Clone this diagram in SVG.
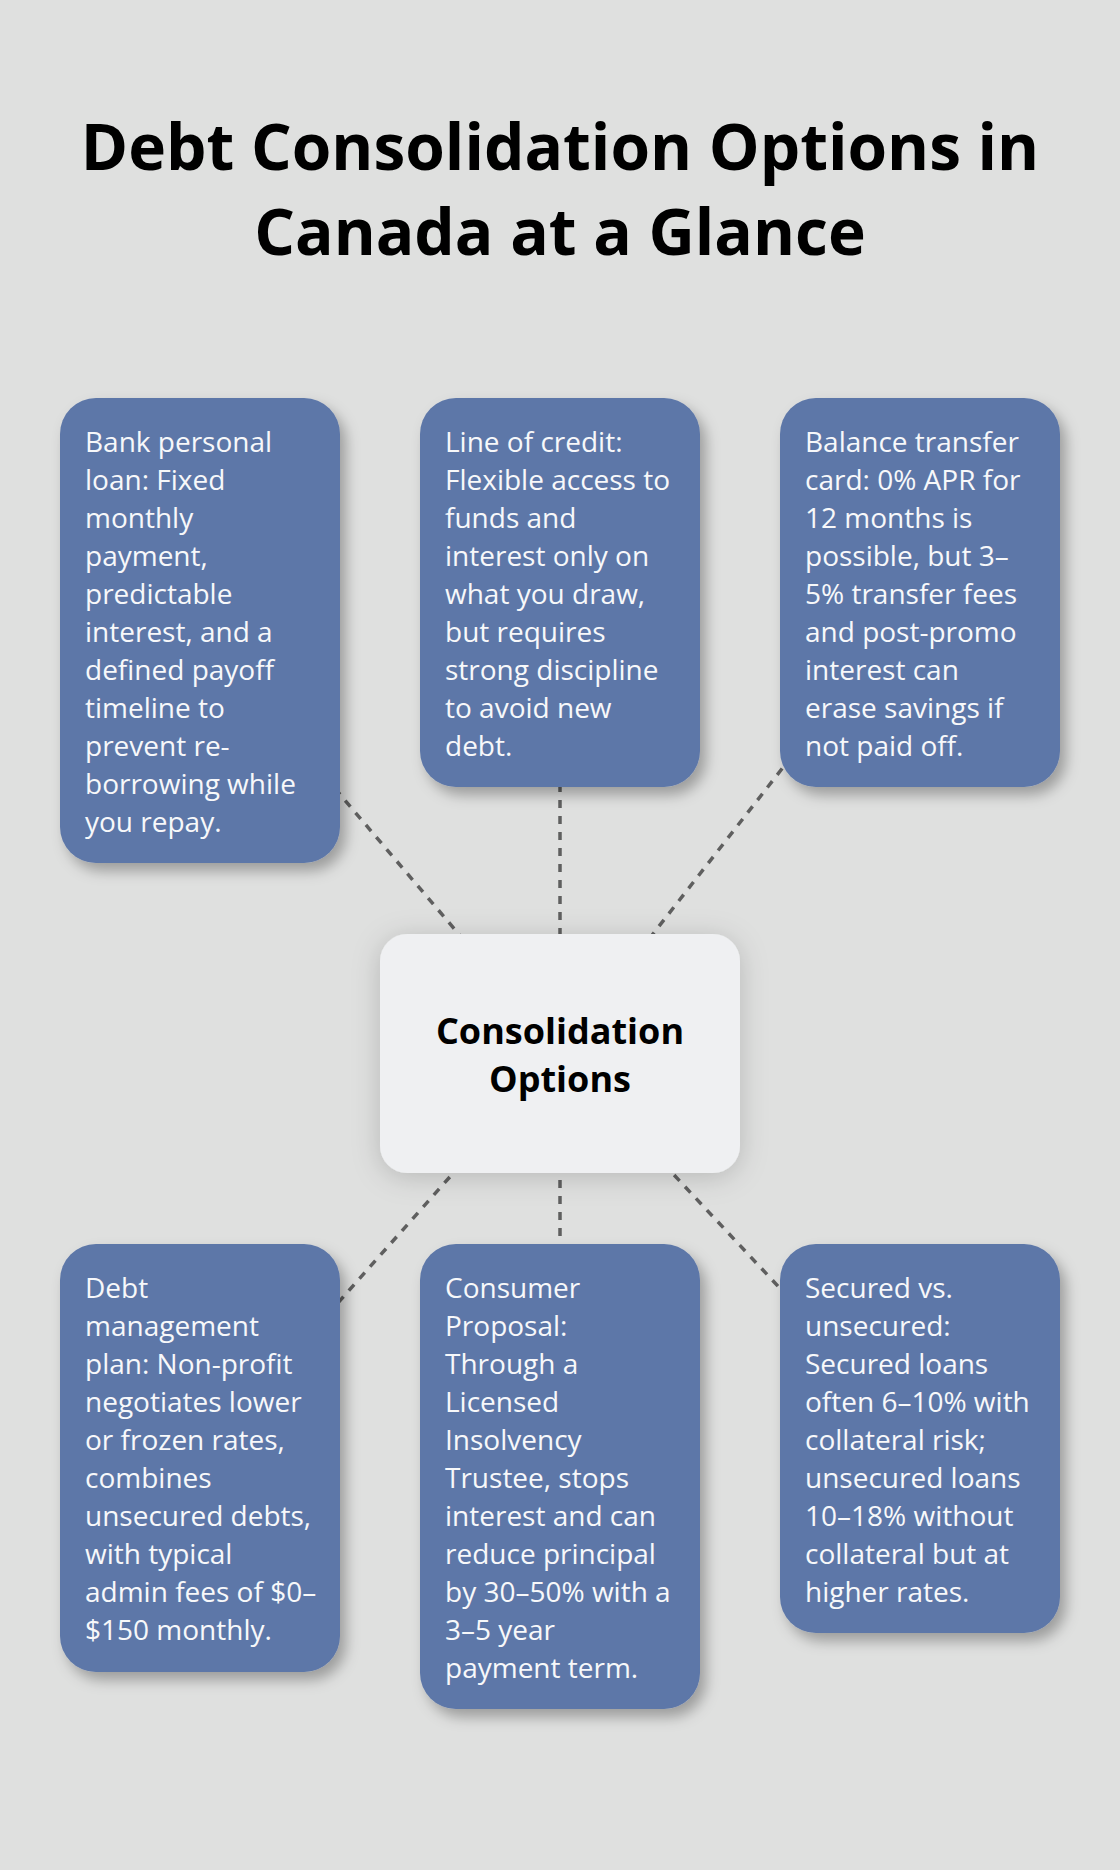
<svg xmlns="http://www.w3.org/2000/svg" width="1120" height="1870" viewBox="0 0 1120 1870">
<defs>
<filter id="sh" x="-20%" y="-20%" width="140%" height="140%">
<feDropShadow dx="6" dy="8" stdDeviation="7" flood-color="#000" flood-opacity="0.3"/>
</filter>
<filter id="shc" x="-20%" y="-20%" width="140%" height="140%">
<feDropShadow dx="0" dy="4" stdDeviation="14" flood-color="#000" flood-opacity="0.18"/>
</filter>
</defs>
<style>
.bg{fill:#dfe0df}
.title{font-family:"Open Sans","Liberation Sans",sans-serif;font-weight:700;font-size:64px;fill:#000;text-anchor:middle}
.box{fill:#5d77a8;filter:url(#sh)}
.t{font-family:"Open Sans","Liberation Sans",sans-serif;font-size:28px;fill:#f7f8fa}
.cbox{fill:#eff0f2;filter:url(#shc)}
.ct{font-family:"Open Sans","Liberation Sans",sans-serif;font-weight:700;font-size:36px;fill:#000;text-anchor:middle}
.edge{stroke:#5f5f5f;stroke-width:3.5;stroke-dasharray:8 8;fill:none}
</style>
<rect class="bg" x="0" y="0" width="1120" height="1870"/>
<g id="title">
<text class="title" x="560" y="170">Debt Consolidation Options in</text>
<text class="title" x="560" y="255">Canada at a Glance</text>
</g>
<g id="connectors">
<line class="edge" x1="200" y1="630" x2="560" y2="1053"/>
<line class="edge" x1="560" y1="592" x2="560" y2="1053"/>
<line class="edge" x1="920" y1="592" x2="560" y2="1053"/>
<line class="edge" x1="200" y1="1458" x2="560" y2="1053"/>
<line class="edge" x1="560" y1="1476" x2="560" y2="1053"/>
<line class="edge" x1="920" y1="1438" x2="560" y2="1053"/>
</g>
<g id="center">
<rect class="cbox" x="380" y="934" width="360" height="239" rx="27"/>
<text class="ct" x="560" y="1044">Consolidation</text>
<text class="ct" x="560" y="1092">Options</text>
</g>
<g id="n1">
<rect class="box" x="60" y="398" width="280" height="465" rx="36"/>
<text class="t" x="85" y="452">Bank personal</text>
<text class="t" x="85" y="490">loan: Fixed</text>
<text class="t" x="85" y="528">monthly</text>
<text class="t" x="85" y="566">payment,</text>
<text class="t" x="85" y="604">predictable</text>
<text class="t" x="85" y="642">interest, and a</text>
<text class="t" x="85" y="680">defined payoff</text>
<text class="t" x="85" y="718">timeline to</text>
<text class="t" x="85" y="756">prevent re-</text>
<text class="t" x="85" y="794">borrowing while</text>
<text class="t" x="85" y="832">you repay.</text>
</g>
<g id="n2">
<rect class="box" x="420" y="398" width="280" height="389" rx="36"/>
<text class="t" x="445" y="452">Line of credit:</text>
<text class="t" x="445" y="490">Flexible access to</text>
<text class="t" x="445" y="528">funds and</text>
<text class="t" x="445" y="566">interest only on</text>
<text class="t" x="445" y="604">what you draw,</text>
<text class="t" x="445" y="642">but requires</text>
<text class="t" x="445" y="680">strong discipline</text>
<text class="t" x="445" y="718">to avoid new</text>
<text class="t" x="445" y="756">debt.</text>
</g>
<g id="n3">
<rect class="box" x="780" y="398" width="280" height="389" rx="36"/>
<text class="t" x="805" y="452">Balance transfer</text>
<text class="t" x="805" y="490">card: 0% APR for</text>
<text class="t" x="805" y="528">12 months is</text>
<text class="t" x="805" y="566">possible, but 3–</text>
<text class="t" x="805" y="604">5% transfer fees</text>
<text class="t" x="805" y="642">and post-promo</text>
<text class="t" x="805" y="680">interest can</text>
<text class="t" x="805" y="718">erase savings if</text>
<text class="t" x="805" y="756">not paid off.</text>
</g>
<g id="n4">
<rect class="box" x="60" y="1244" width="280" height="428" rx="36"/>
<text class="t" x="85" y="1298">Debt</text>
<text class="t" x="85" y="1336">management</text>
<text class="t" x="85" y="1374">plan: Non-profit</text>
<text class="t" x="85" y="1412">negotiates lower</text>
<text class="t" x="85" y="1450">or frozen rates,</text>
<text class="t" x="85" y="1488">combines</text>
<text class="t" x="85" y="1526">unsecured debts,</text>
<text class="t" x="85" y="1564">with typical</text>
<text class="t" x="85" y="1602">admin fees of $0–</text>
<text class="t" x="85" y="1640">$150 monthly.</text>
</g>
<g id="n5">
<rect class="box" x="420" y="1244" width="280" height="465" rx="36"/>
<text class="t" x="445" y="1298">Consumer</text>
<text class="t" x="445" y="1336">Proposal:</text>
<text class="t" x="445" y="1374">Through a</text>
<text class="t" x="445" y="1412">Licensed</text>
<text class="t" x="445" y="1450">Insolvency</text>
<text class="t" x="445" y="1488">Trustee, stops</text>
<text class="t" x="445" y="1526">interest and can</text>
<text class="t" x="445" y="1564">reduce principal</text>
<text class="t" x="445" y="1602">by 30–50% with a</text>
<text class="t" x="445" y="1640">3–5 year</text>
<text class="t" x="445" y="1678">payment term.</text>
</g>
<g id="n6">
<rect class="box" x="780" y="1244" width="280" height="389" rx="36"/>
<text class="t" x="805" y="1298">Secured vs.</text>
<text class="t" x="805" y="1336">unsecured:</text>
<text class="t" x="805" y="1374">Secured loans</text>
<text class="t" x="805" y="1412">often 6–10% with</text>
<text class="t" x="805" y="1450">collateral risk;</text>
<text class="t" x="805" y="1488">unsecured loans</text>
<text class="t" x="805" y="1526">10–18% without</text>
<text class="t" x="805" y="1564">collateral but at</text>
<text class="t" x="805" y="1602">higher rates.</text>
</g>
</svg>
